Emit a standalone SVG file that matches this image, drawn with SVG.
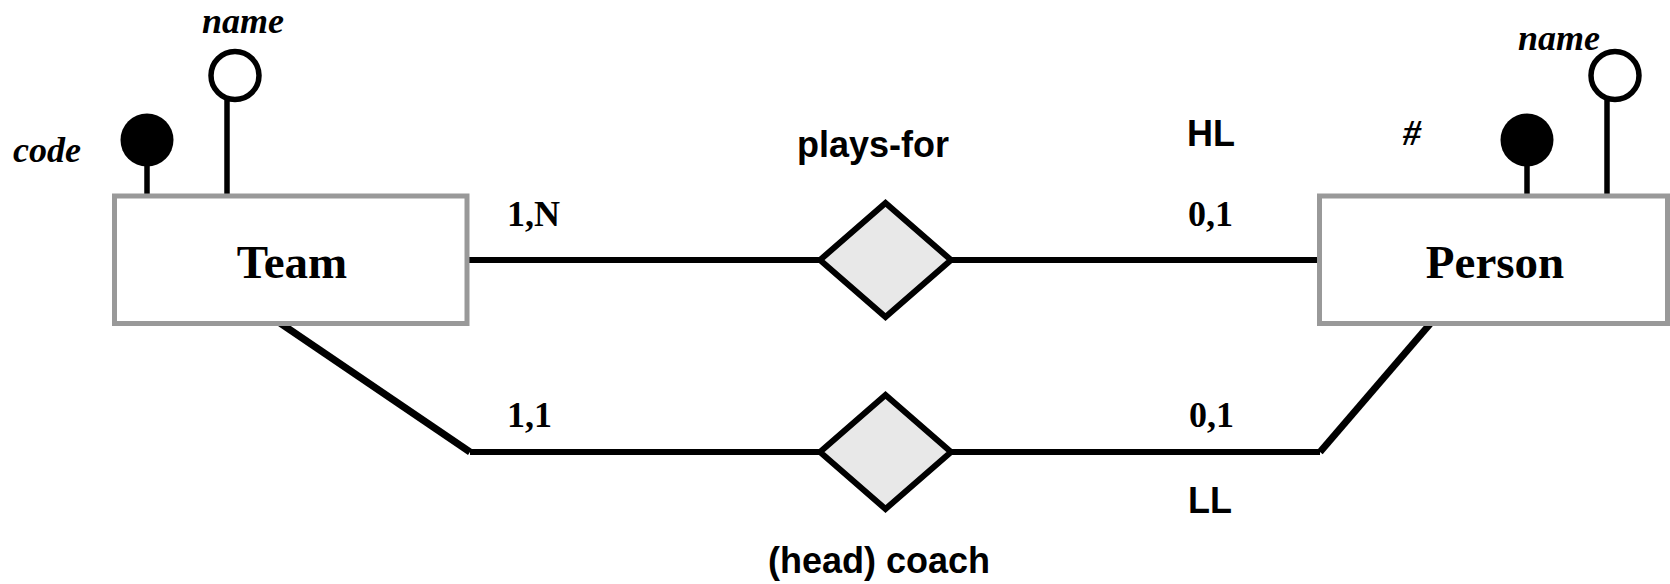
<svg xmlns="http://www.w3.org/2000/svg" width="1670" height="584" viewBox="0 0 1670 584">
<style>
.entity{fill:#fff;stroke:#999;stroke-width:5}
.rel{fill:#e8e8e8;stroke:#000;stroke-width:6}
.conn{fill:none;stroke:#000;stroke-width:6}
.diag{fill:none;stroke:#000;stroke-width:7}
.stem{stroke:#000;stroke-width:5.5}
.key{fill:#000}
.attr{fill:#fff;stroke:#000;stroke-width:5.5}
.ename{font-family:"Liberation Serif",serif;font-weight:bold;font-size:47px;text-anchor:middle}
.aname{font-family:"Liberation Serif",serif;font-weight:bold;font-style:italic;font-size:36px}
.card{font-family:"Liberation Serif",serif;font-weight:bold;font-size:36px}
.rname{font-family:"Liberation Sans",sans-serif;font-weight:bold;font-size:36px}
</style>
<rect width="1670" height="584" fill="#fff"/>
<g id="connectors">
<line class="conn" x1="467" y1="260" x2="820" y2="260"/>
<line class="conn" x1="951" y1="260" x2="1319.5" y2="260"/>
<line class="diag" x1="280" y1="323" x2="470" y2="452"/>
<line class="conn" x1="470" y1="452" x2="820" y2="452"/>
<line class="conn" x1="951" y1="452" x2="1320" y2="452"/>
<line class="diag" x1="1320" y1="452" x2="1430" y2="324"/>
</g>
<g id="team">
<line class="stem" x1="147" y1="160" x2="147" y2="196"/>
<circle class="key" cx="147" cy="140" r="26.5"/>
<line class="stem" x1="227" y1="100" x2="227" y2="196"/>
<circle class="attr" cx="235" cy="75.5" r="24"/>
<rect class="entity" x="114.5" y="196" width="352.5" height="127.5"/>
<text class="ename" x="292" y="278">Team</text>
<text class="aname" x="13" y="162">code</text>
<text class="aname" x="202" y="33">name</text>
</g>
<g id="person">
<line class="stem" x1="1527" y1="160" x2="1527" y2="196"/>
<circle class="key" cx="1527" cy="140" r="26.5"/>
<line class="stem" x1="1607" y1="100" x2="1607" y2="196"/>
<circle class="attr" cx="1615" cy="75.5" r="24"/>
<rect class="entity" x="1319.5" y="196" width="348" height="127.5"/>
<text class="ename" x="1495" y="278">Person</text>
<text class="aname" x="1403" y="145">#</text>
<text class="aname" x="1518" y="50">name</text>
</g>
<g id="plays-for">
<polygon class="rel" points="820,260 885.5,203 951,260 885.5,317"/>
<text class="rname" x="797" y="157">plays-for</text>
<text class="card" x="507" y="226">1,N</text>
<text class="card" x="1188" y="226">0,1</text>
<text class="rname" x="1187" y="146">HL</text>
</g>
<g id="coach">
<polygon class="rel" points="820,452 885.5,395 951,452 885.5,509"/>
<text class="rname" x="768" y="573">(head) coach</text>
<text class="card" x="507" y="427">1,1</text>
<text class="card" x="1189" y="427">0,1</text>
<text class="rname" x="1188" y="513">LL</text>
</g>
</svg>
